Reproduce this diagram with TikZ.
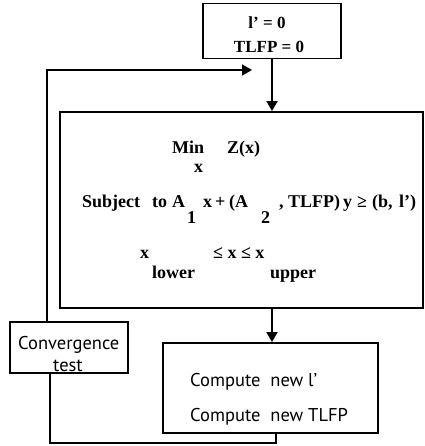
\documentclass[tikz,border=0pt]{standalone}
\usepackage{fontspec}
\setmainfont{Liberation Serif}
\newfontfamily\lowfont{PT Sans}
\usetikzlibrary{arrows.meta}
\begin{document}
\begin{tikzpicture}[x=1pt,y=-1pt,
  box/.style={draw,line width=1.8pt,inner sep=0pt},
  arr/.style={line width=1.8pt,-{Triangle[length=10pt,width=11pt]}},
  wire/.style={line width=1.8pt},
  lbl/.style={font=\bfseries\fontsize{18}{20}\selectfont,inner sep=0pt,anchor=base west},
  mid/.style={font=\bfseries\fontsize{17}{19}\selectfont,inner sep=0pt,anchor=base},
  low/.style={font=\lowfont\fontsize{18.5}{20}\selectfont,inner sep=0pt,anchor=base west}]
\useasboundingbox (0,0) rectangle (424,446);

% boxes
\node[box,minimum width=138pt,minimum height=55pt] (init) at (272,31) {};
\node[box,minimum width=363pt,minimum height=196pt] (prob) at (241.5,210) {};
\node[box,minimum width=118pt,minimum height=51pt] (conv) at (69,347.5) {};
\node[box,minimum width=215pt,minimum height=90pt] (comp) at (270.5,388) {};

% initial values
\node[mid] (t1) at (267,29) {l’ = 0};
\node[mid] (t2) at (269,53) {TLFP = 0};

% objective
\node[lbl] (m1) at (172,154) {Min};
\node[lbl] (m2) at (194,172) {x};
\node[lbl] (m3) at (227,154) {Z(x)};

% constraint row
\node[lbl] (s1) at (82,207) {Subject};
\node[lbl] (s2) at (152,207) {to};
\node[lbl] (s3) at (172,207) {A};
\node[lbl] (s4) at (187,223) {1};
\node[lbl] (s5) at (203,207) {x};
\node[lbl] (s6) at (215,207) {+};
\node[lbl] (s7) at (229,207) {(A};
\node[lbl] (s8) at (261,223) {2};
\node[lbl] (s9) at (279,207) {,};
\node[lbl] (s10) at (288,207) {TLFP)};
\node[lbl] (s11) at (343,207) {y};
\node[lbl] (s12) at (357,207) {≥};
\node[lbl] (s13) at (372,207) {(b,};
\node[lbl] (s14) at (399,207) {l’)};

% bounds
\node[lbl] (b1) at (140,258) {x};
\node[lbl] (b2) at (152,278) {lower};
\node[lbl] (b3) at (213,258) {≤ x ≤ x};
\node[lbl] (b4) at (270,278) {upper};

% update and test
\node[low] (c1) at (190,386) {Compute\ \ new l’};
\node[low] (c2) at (190,421) {Compute\ \ new TLFP};
\node[low] (v1) at (18,349) {Convergence};
\node[low] (v2) at (53,371) {test};

% connectors
\coordinate (loopA) at (276,443);
\coordinate (loopB) at (50,443);
\coordinate (backA) at (47,70);
\coordinate (backB) at (252,70);
\draw[arr] (init.south) -- (init.south |- prob.north);
\draw[arr] (init.south |- prob.south) -- (init.south |- comp.north);
\draw[wire] (loopA |- comp.south) -- (loopA) -- (loopB) -- (loopB |- conv.south);
\draw[arr] (backA |- conv.north) -- (backA) -- (backB);
\end{tikzpicture}
\end{document}
